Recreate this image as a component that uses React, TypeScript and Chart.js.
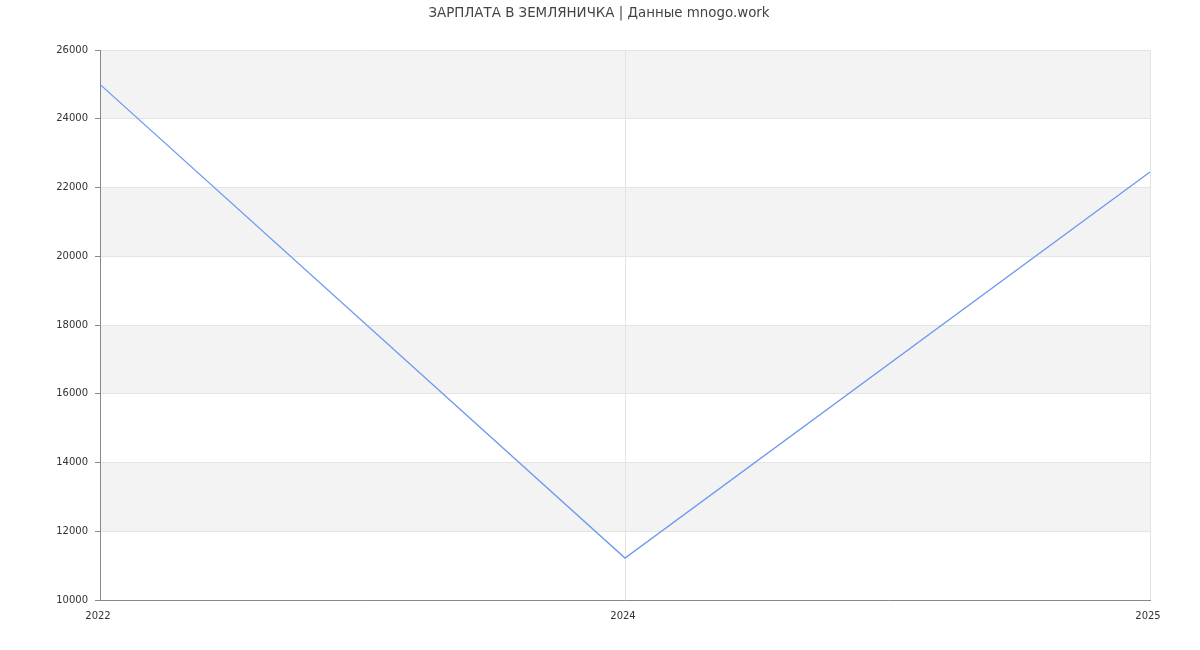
import React, { useEffect, useRef } from "react";
import { Chart, registerables } from "chart.js";

Chart.register(...registerables);

// Salary by year
const years: string[] = ["2022", "2024", "2025"];
const salaries: number[] = [25000, 11220, 22450];

const yMin = 10000;
const yMax = 26000;
const yStep = 2000;

const titleText = "ЗАРПЛАТА В ЗЕМЛЯНИЧКА | Данные mnogo.work";

// Shades every other interval between y ticks
const stripePlugin = {
  id: "stripes",
  beforeDraw(chart: any) {
    const { ctx, chartArea, scales } = chart;
    const y = scales.y;
    const ticks = y.ticks;
    ctx.save();
    ctx.fillStyle = "#f3f3f3";
    for (let i = ticks.length - 1; i > 0; i -= 2) {
      const top = y.getPixelForValue(ticks[i].value);
      const bottom = y.getPixelForValue(ticks[i - 1].value);
      ctx.fillRect(chartArea.left, top, chartArea.right - chartArea.left, bottom - top);
    }
    ctx.restore();
  },
};

// Title centred over the whole canvas
const canvasTitlePlugin = {
  id: "canvasTitle",
  afterDraw(chart: any) {
    const { ctx, width } = chart;
    ctx.save();
    ctx.font = "13.4px 'DejaVu Sans'";
    ctx.fillStyle = "#444";
    ctx.textAlign = "center";
    ctx.textBaseline = "middle";
    ctx.fillText(titleText, width / 2 - 1, 13.5);
    ctx.restore();
  },
};

export default function App() {
  const canvasRef = useRef<HTMLCanvasElement | null>(null);

  useEffect(() => {
    document.body.style.margin = "0";
    const canvas = canvasRef.current;
    if (!canvas) return;
    const chart = new Chart(canvas, {
      type: "line",
      data: {
        labels: years,
        datasets: [
          {
            data: salaries,
            borderColor: "#6b9af0",
            borderWidth: 1.3,
            pointRadius: 0,
            pointHoverRadius: 0,
            fill: false,
            tension: 0,
          },
        ],
      },
      options: {
        animation: false,
        responsive: false,
        maintainAspectRatio: false,
        layout: { padding: { left: 0, right: 50, top: 50, bottom: 0 } },
        plugins: {
          legend: { display: false },
          tooltip: { enabled: false },
          title: { display: false },
        },
        scales: {
          x: {
            type: "category",
            offset: false,
            grid: {
              color: "#e4e4e4",
              drawTicks: false,
              lineWidth: 1,
            },
            border: { color: "#888", width: 1 },
            ticks: {
              color: "#333",
              font: { family: "DejaVu Sans", size: 10 },
              padding: 10,
              labelOffset: -2,
              maxRotation: 0,
            },
            afterFit(scale: any) {
              scale.height = 50;
            },
          },
          y: {
            min: yMin,
            max: yMax,
            grid: {
              color: "#e4e4e4",
              tickColor: "#888",
              tickLength: 5,
            },
            border: { color: "#888", width: 1 },
            ticks: {
              stepSize: yStep,
              color: "#333",
              font: { family: "DejaVu Sans", size: 10 },
              padding: 7,
              callback: (value: any) => String(value),
            },
            afterFit(scale: any) {
              scale.width = 100;
            },
          },
        },
      },
      plugins: [stripePlugin, canvasTitlePlugin],
    });
    return () => chart.destroy();
  }, []);

  return (
    <div style={{ width: 1200, height: 650 }}>
      <canvas ref={canvasRef} width={1200} height={650} style={{ display: "block" }} />
    </div>
  );
}
